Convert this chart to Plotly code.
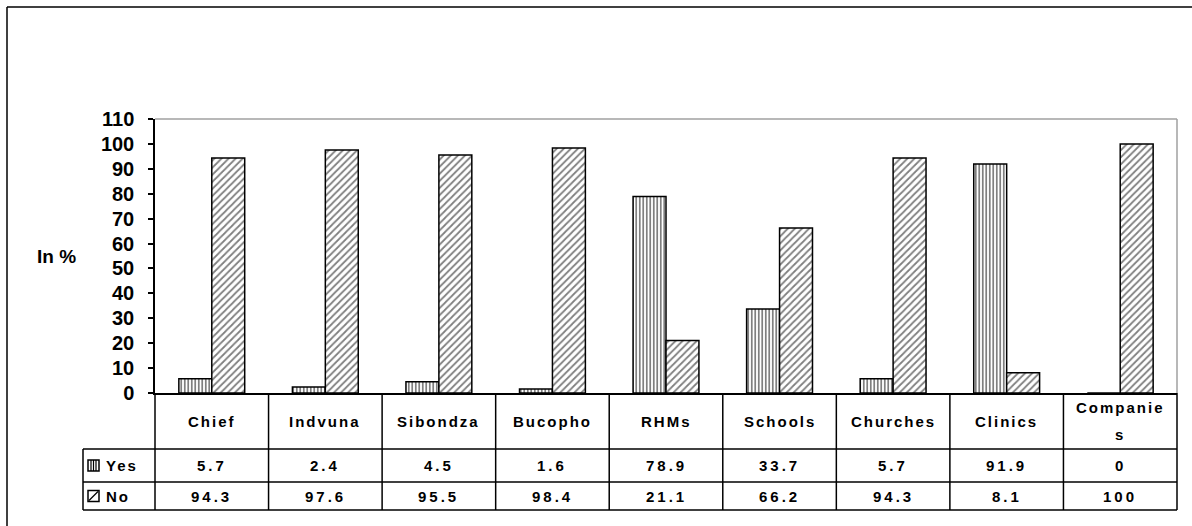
import textwrap
import plotly.graph_objects as go

# Survey data: share of respondents (in %) per institution
categories = ["Chief", "Indvuna", "Sibondza", "Bucopho", "RHMs",
              "Schools", "Churches", "Clinics", "Companies"]
yes_values = [5.7, 2.4, 4.5, 1.6, 78.9, 33.7, 5.7, 91.9, 0]
no_values = [94.3, 97.6, 95.5, 98.4, 21.1, 66.2, 94.3, 8.1, 100]
series_names = ["Yes", "No"]
y_ticks = list(range(0, 111, 10))

FONT = "Arial, Liberation Sans, sans-serif"
W, H = 1192, 526
L, R, T, B = 155, 15, 119, 133          # plot-area margins (px)
PW, PH = W - L - R, H - T - B


def px_x(px):
    """Horizontal pixel -> paper coordinate."""
    return (px - L) / PW


def px_y(py):
    """Vertical pixel -> paper coordinate."""
    return (H - B - py) / PH


def spaced(text, gap=2):
    return f'<span style="letter-spacing:{gap}px">{text}</span>'


fig = go.Figure()
fig.add_trace(go.Bar(
    x=categories, y=yes_values, name=series_names[0],
    marker=dict(color="white", line=dict(color="black", width=1.5),
                pattern=dict(shape="|", fgcolor="black", bgcolor="white",
                             size=3.5, solidity=0.5)),
))
fig.add_trace(go.Bar(
    x=categories, y=no_values, name=series_names[1],
    marker=dict(color="white", line=dict(color="black", width=1.5),
                pattern=dict(shape="/", fgcolor="black", bgcolor="white",
                             size=5, solidity=0.35)),
))

# Table rows (pixel bands below the plot area)
header_top, header_bot = 393, 449
yes_bot, no_bot = 482, 510
table_left = 83
n = len(categories)

shapes = []
line_k = dict(color="black", width=1.5)
# gray top/right frame of the plot area
shapes.append(dict(type="line", xref="paper", yref="paper", x0=0, x1=1,
                   y0=1, y1=1, line=dict(color="#a0a0a0", width=1.5)))
shapes.append(dict(type="line", xref="paper", yref="paper", x0=1, x1=1,
                   y0=0, y1=1, line=dict(color="#a0a0a0", width=1.5)))
# table horizontal rules
for py, x0 in [(header_bot, table_left), (yes_bot, table_left), (no_bot, table_left)]:
    shapes.append(dict(type="line", xref="paper", yref="paper",
                       x0=px_x(x0), x1=1, y0=px_y(py), y1=px_y(py), line=line_k))
# table vertical rules at category boundaries
for i in range(n + 1):
    shapes.append(dict(type="line", xref="paper", yref="paper",
                       x0=i / n, x1=i / n, y0=px_y(no_bot), y1=0, line=line_k))
shapes.append(dict(type="line", xref="paper", yref="paper",
                   x0=px_x(table_left), x1=px_x(table_left),
                   y0=px_y(no_bot), y1=px_y(header_bot), line=line_k))
# outer frame (top and left edges)
shapes.append(dict(type="line", xref="paper", yref="paper",
                   x0=px_x(7), x1=px_x(W + 5), y0=px_y(7), y1=px_y(7),
                   line=dict(color="black", width=1.5)))
shapes.append(dict(type="line", xref="paper", yref="paper",
                   x0=px_x(7), x1=px_x(7), y0=px_y(7), y1=px_y(H + 5),
                   line=dict(color="black", width=1.5)))

# legend keys inside the table
key_w = 11
for row, (top, bot) in enumerate([(header_bot, yes_bot), (yes_bot, no_bot)]):
    cy = (top + bot) / 2
    kx0, kx1 = 88, 88 + key_w
    ky0, ky1 = cy - key_w / 2, cy + key_w / 2
    shapes.append(dict(type="rect", xref="paper", yref="paper",
                       x0=px_x(kx0), x1=px_x(kx1), y0=px_y(ky1), y1=px_y(ky0),
                       line=dict(color="black", width=1.5), fillcolor="white"))
    if row == 0:
        for dx in (3, 5.5, 8):
            shapes.append(dict(type="line", xref="paper", yref="paper",
                               x0=px_x(kx0 + dx), x1=px_x(kx0 + dx),
                               y0=px_y(ky1), y1=px_y(ky0),
                               line=dict(color="black", width=1.2)))
    else:
        shapes.append(dict(type="line", xref="paper", yref="paper",
                           x0=px_x(kx0 + 1), x1=px_x(kx1 - 1),
                           y0=px_y(ky1 - 1), y1=px_y(ky0 + 1),
                           line=dict(color="black", width=1.2)))

annotations = []
cell_font = dict(family=FONT, size=15, color="black")
header_mid = (header_top + header_bot) / 2
line_step = 27
for i, cat in enumerate(categories):
    xc = (i + 0.5) / n
    parts = textwrap.wrap(cat, 8)
    for j, part in enumerate(parts):
        py = header_mid + (j - (len(parts) - 1) / 2) * line_step
        annotations.append(dict(x=xc, y=px_y(py), xref="paper", yref="paper",
                                text=f"<b>{spaced(part)}</b>",
                                xanchor="center", yanchor="middle",
                                showarrow=False, font=cell_font))
    for vals, (top, bot) in [(yes_values, (header_bot, yes_bot)),
                             (no_values, (yes_bot, no_bot))]:
        annotations.append(dict(x=xc, y=px_y((top + bot) / 2),
                                xref="paper", yref="paper",
                                xanchor="center", yanchor="middle",
                                text=f"<b>{spaced(f'{vals[i]:g}', 3)}</b>",
                                showarrow=False, font=cell_font))
for name, (top, bot) in zip(series_names, [(header_bot, yes_bot), (yes_bot, no_bot)]):
    annotations.append(dict(x=px_x(104), y=px_y((top + bot) / 2),
                            xref="paper", yref="paper",
                            xanchor="left", yanchor="middle",
                            text=f"<b>{spaced(name)}</b>",
                            showarrow=False, font=cell_font))
annotations.append(dict(x=px_x(35), y=px_y(256), xref="paper", yref="paper",
                        xanchor="left", yanchor="middle",
                        text="<b>In %</b>", showarrow=False,
                        font=dict(family=FONT, size=19, color="black")))

fig.update_layout(
    width=W, height=H,
    margin=dict(l=L, r=R, t=T, b=B, pad=0),
    paper_bgcolor="white", plot_bgcolor="white",
    barmode="group", bargap=0.42, bargroupgap=0,
    showlegend=False,
    shapes=shapes, annotations=annotations,
    xaxis=dict(type="category", showticklabels=False, showgrid=False,
               zeroline=False, showline=True, linecolor="black", linewidth=1.5,
               ticks=""),
    yaxis=dict(range=[0, 110], tickvals=y_ticks, showgrid=False, zeroline=False,
               showline=True, linecolor="black", linewidth=1.5,
               ticks="outside", ticklen=5, tickwidth=1.5, tickcolor="black",
               ticklabelstandoff=10,
               tickfont=dict(family=FONT, size=20, color="black", weight="bold")),
    font=dict(family=FONT, color="black"),
)

fig.write_html("out.html")
